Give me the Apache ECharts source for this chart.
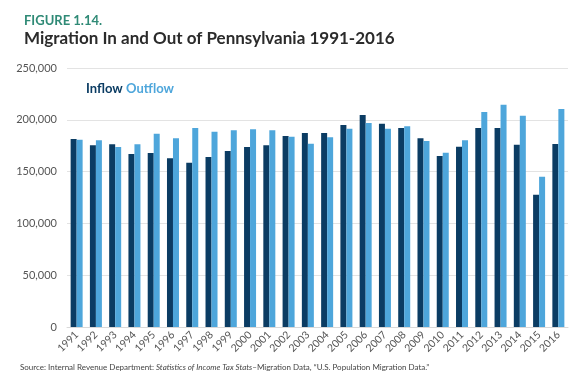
<!DOCTYPE html>
<html><head><meta charset="utf-8">
<script src="https://cdn.jsdelivr.net/npm/echarts@6/dist/echarts.min.js"></script>
<style>html,body{margin:0;padding:0;background:#fff}#c{width:582px;height:376px}</style>
</head><body><div id="c"></div>
<script>
var years = ['1991','1992','1993','1994','1995','1996','1997','1998','1999','2000','2001','2002','2003','2004','2005','2006','2007','2008','2009','2010','2011','2012','2013','2014','2015','2016'];
var inflow = [181500,175400,176400,167000,168000,162800,158600,164100,169900,173700,175400,184400,187300,187300,195000,204600,196200,192100,182100,165000,174000,192100,192100,176000,127700,176600];
var outflow = [180800,180200,173700,176400,186600,182100,192100,188500,189900,190800,189900,183700,177000,183100,191400,196900,191400,193700,179500,168200,180200,207500,214600,204000,145100,210400];
var yTicks = [0,50000,100000,150000,200000,250000];

var chart = echarts.init(document.getElementById('c'));
var font = 'Lato, "Open Sans", sans-serif';
chart.setOption({
  backgroundColor:'#fff',
  animation:false,
  textStyle:{fontFamily:font},
  title:[
    {text:'FIGURE 1.14.', left:19, top:9, textStyle:{fontFamily:font, fontSize:13, fontWeight:'bold', color:'#2f8a76'}},
    {text:'Migration In and Out of Pennsylvania 1991-2016', left:19, top:25, textStyle:{fontFamily:font, fontSize:17, fontWeight:'bold', color:'#2b2b2b'}}
  ],
  legend:{show:false, data:['Inflow','Outflow']},
  grid:{left:67, right:14, top:68, bottom:49},
  xAxis:{
    type:'category', data:years,
    axisLine:{show:true, lineStyle:{color:'#d9d9d9'}},
    axisTick:{show:false},
    axisLabel:{rotate:45, interval:0, fontSize:10.5, color:'#555', margin:6, fontFamily:font}
  },
  yAxis:{
    type:'value', min:yTicks[0], max:yTicks[yTicks.length-1], interval:50000,
    axisLine:{show:false}, axisTick:{show:false},
    splitLine:{lineStyle:{color:'#e3e3e3'}},
    axisLabel:{fontSize:11, color:'#555', margin:10, fontFamily:font,
      formatter:function(v){return v.toLocaleString('en-US');}}
  },
  series:[
    {name:'Inflow', type:'bar', data:inflow, barWidth:6, barGap:'0%', itemStyle:{color:'#0b3c63'}},
    {name:'Outflow', type:'bar', data:outflow, barWidth:6, itemStyle:{color:'#4ea6db'}}
  ],
  graphic:[{
    type:'text', left:86, top:82,
    style:{
      text:'{a|Inflow} {b|Outflow}',
      rich:{
        a:{fontFamily:font, fontSize:13, fontWeight:'bold', fill:'#0b3c63', color:'#0b3c63'},
        b:{fontFamily:font, fontSize:13, fontWeight:'bold', fill:'#4ea6db', color:'#4ea6db'}
      }
    }
  },{
    type:'text', left:20, top:363,
    style:{
      text:'{n|Source: Internal Revenue Department: }{i|Statistics of Income Tax Stats}{n|–Migration Data, “U.S. Population Migration Data.”}',
      rich:{
        n:{fontFamily:font, fontSize:8, fill:'#444', color:'#444'},
        i:{fontFamily:font, fontSize:8, fontStyle:'italic', fill:'#444', color:'#444'}
      }
    }
  }]
});
</script></body></html>
